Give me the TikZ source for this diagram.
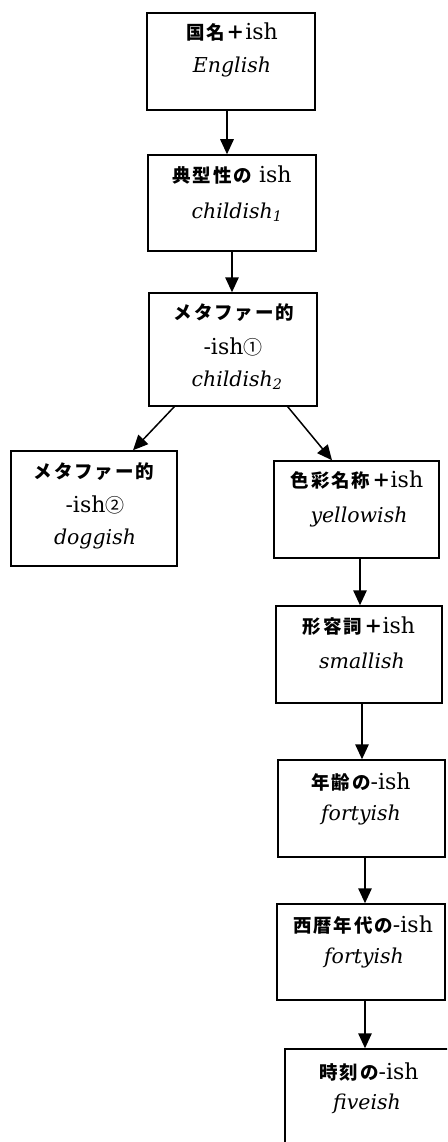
\documentclass[tikz,border=0pt]{standalone}
\usepackage{fontspec}
\setmainfont{DejaVu Serif}
\newfontfamily\cjk{Noto Sans CJK JP}[LetterSpace=10]
\newfontfamily\cjkr{Noto Sans CJK JP}
\usetikzlibrary{arrows.meta}
\newcommand\J[1]{{\cjk\bfseries\fontsize{18.5}{20}\selectfont #1}}
\newcommand\JR[1]{{\cjkr\fontsize{19}{20}\selectfont #1}}
\tikzset{
  box/.style={draw, line width=1.5pt, inner sep=0pt},
  txt/.style={inner sep=0pt, anchor=center, font=\fontsize{22}{24}\selectfont},
  itx/.style={inner sep=0pt, anchor=center, font=\fontsize{20.5}{24}\selectfont\itshape},
  arr/.style={line width=1.5pt, -{Triangle[length=15pt,width=13.5pt]}}
}
\begin{document}
\begin{tikzpicture}[x=1pt,y=-1pt]
\clip (0,0) rectangle (447,1142);
\fill[white] (0,0) rectangle (447,1142);
% boxes
\node[box, minimum width=168pt, minimum height=97pt] (b1) at (231,61.5) {};
\node[box, minimum width=168pt, minimum height=96pt] (b2) at (232,203) {};
\node[box, minimum width=168pt, minimum height=113pt] (b3) at (233,349.5) {};
\node[box, minimum width=166pt, minimum height=115pt] (b4) at (94,508.5) {};
\node[box, minimum width=165pt, minimum height=97pt] (b5) at (356.5,509.5) {};
\node[box, minimum width=166pt, minimum height=97pt] (b6) at (359,654.5) {};
\node[box, minimum width=167pt, minimum height=97pt] (b7) at (361.5,808.5) {};
\node[box, minimum width=168pt, minimum height=96pt] (b8) at (361,952) {};
\node[box, minimum width=166pt, minimum height=140pt] (b9) at (368,1119) {};
% texts
\node[txt] (t1a) at (232,32) {\J{国名＋}ish};
\node[itx] (t1b) at (232,67) {English};
\node[txt] (t2a) at (232,175) {\J{典型性の} ish};
\node[itx] (t2b) at (237,212) {childish\textsubscript{1}};
\node[txt] (t3a) at (234,313) {\J{メタファー的}};
\node[txt] (t3b) at (233,347) {-ish\JR{①}};
\node[itx] (t3c) at (237,380) {childish\textsubscript{2}};
\node[txt] (t4a) at (94,472) {\J{メタファー的}};
\node[txt] (t4b) at (95,505) {-ish\JR{②}};
\node[itx] (t4c) at (95,539) {doggish};
\node[txt] (t5a) at (357,480) {\J{色彩名称＋}ish};
\node[itx] (t5b) at (359,517) {yellowish};
\node[txt] (t6a) at (359,626) {\J{形容詞＋}ish};
\node[itx] (t6b) at (362,661) {smallish};
\node[txt] (t7a) at (361,782) {\J{年齢の}-ish};
\node[itx] (t7b) at (361,815) {fortyish};
\node[txt] (t8a) at (363,925) {\J{西暦年代の}-ish};
\node[itx] (t8b) at (364,958) {fortyish};
\node[txt] (t9a) at (369,1072) {\J{時刻の}-ish};
\node[itx] (t9b) at (367,1104) {fiveish};
% arrows
\draw[arr] ([xshift=-4pt]b1.south) -- ([xshift=-5pt]b2.north);
\draw[arr] (b2.south) -- ([xshift=-1pt]b3.north);
\draw[arr] ([xshift=26pt]b3.south west) -- ([xshift=39pt]b4.north);
\draw[arr] ([xshift=-30pt]b3.south east) -- ([xshift=-24.5pt]b5.north);
\draw[arr] ([xshift=3.5pt]b5.south) -- ([xshift=1pt]b6.north);
\draw[arr] ([xshift=3pt]b6.south) -- ([xshift=0.5pt]b7.north);
\draw[arr] ([xshift=3.5pt]b7.south) -- ([xshift=4pt]b8.north);
\draw[arr] ([xshift=4pt]b8.south) -- ([xshift=-3pt]b9.north);
\end{tikzpicture}
\end{document}
